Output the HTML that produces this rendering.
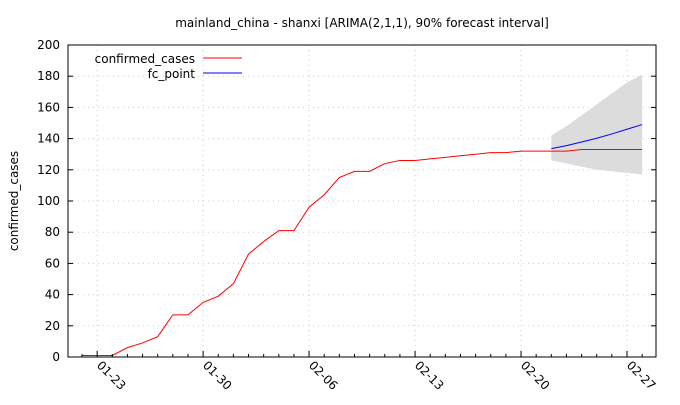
<!DOCTYPE html>
<html><head><meta charset="utf-8"><style>
body{margin:0;background:#fff;}
svg text{font-family:"DejaVu Sans","Liberation Sans",sans-serif;font-size:12px;fill:#000;}
</style></head><body>
<svg id="chart" width="680" height="400">
<rect width="680" height="400" fill="#fff"/>
<text x="362" y="27" text-anchor="middle">mainland_china - shanxi [ARIMA(2,1,1), 90% forecast interval]</text>
<text transform="translate(18,201) rotate(-90)" text-anchor="middle">confirmed_cases</text>
<g id="grid"></g><g id="band"></g><g id="lines"></g><g id="axes"></g>
<g>
<text x="195" y="63" text-anchor="end">confirmed_cases</text>
<line x1="203" y1="58" x2="242" y2="58" stroke="#f00"/>
<text x="195" y="78" text-anchor="end">fc_point</text>
<line x1="203" y1="73" x2="242" y2="73" stroke="#00f"/>
</g>
</svg>
<script>
const confirmed=[1,1,1,6,9,13,27,27,35,39,47,66,74,81,81,96,104,115,119,119,124,126,126,127,128,129,130,131,131,132,132,132,132,133,133,133,133,133];
const fcStartDay=31;
const fcPoint=[133.6,135.5,137.8,140.2,143,146,149];
const fcUpper=[142,148,155,162,169,176,181];
const fcLower=[126,124,122,120,119,118,117];
const yTicks=[0,20,40,60,80,100,120,140,160,180,200];
const xTickLabels=["01-23","01-30","02-06","02-13","02-20","02-27"];
const xTickDays=[1,8,15,22,29,36];

const L=68,R=656,T=45,B=357,NS="http://www.w3.org/2000/svg";
const x=d=>82+d*(627-82)/36;
const y=v=>B-(v/200)*(B-T);
function mk(p,t,a){const e=document.createElementNS(NS,t);for(const k in a)e.setAttribute(k,a[k]);document.getElementById(p).appendChild(e);return e;}
yTicks.forEach(v=>{
 if(v>0&&v<200){const g=mk('grid','line',{x1:L,x2:R,y1:y(v),y2:y(v),stroke:'#ccc','stroke-dasharray':'1,4'});
 
 }
 const t=mk('axes','line',{x1:L,x2:L+5,y1:y(v),y2:y(v),stroke:'#000'});
 
 
 const t2=mk('axes','line',{x1:R,x2:R-5,y1:y(v),y2:y(v),stroke:'#000'});
 
 
 const lb=mk('axes','text',{x:L-8,y:y(v)+4,'text-anchor':'end'});lb.textContent=v;
 
 
});
for(let d=0;d<confirmed.length;d++){
 const major=xTickDays.includes(d);
 const t=mk('axes','line',{x1:x(d),x2:x(d),y1:B,y2:B-(major?6:3),stroke:'#000'});
 
 
}
xTickDays.forEach((d,i)=>{
 const g=mk('grid','line',{x1:x(d),x2:x(d),y1:T,y2:B,stroke:'#ccc','stroke-dasharray':'1,4'});
 
 
 const lb=mk('axes','text',{transform:`translate(${x(d)-1},${B+9}) rotate(45)`});lb.textContent=xTickLabels[i];
 
 
});
const fr=mk('axes','rect',{x:L,y:T,width:R-L,height:B-T,fill:'none',stroke:'#000'});


let bp=fcUpper.map((v,i)=>x(fcStartDay+i)+','+y(v));
bp=bp.concat(fcLower.map((v,i)=>x(fcStartDay+i)+','+y(v)).reverse());
const band=mk('band','polygon',{points:bp.join(' '),fill:'#dcdcdc'});


const c=mk('lines','polyline',{points:confirmed.map((v,i)=>x(i)+','+y(v)).join(' '),fill:'none',stroke:'#f00'});


const f=mk('lines','polyline',{points:fcPoint.map((v,i)=>x(fcStartDay+i)+','+y(v)).join(' '),fill:'none',stroke:'#00f'});


</script>
</body></html>
